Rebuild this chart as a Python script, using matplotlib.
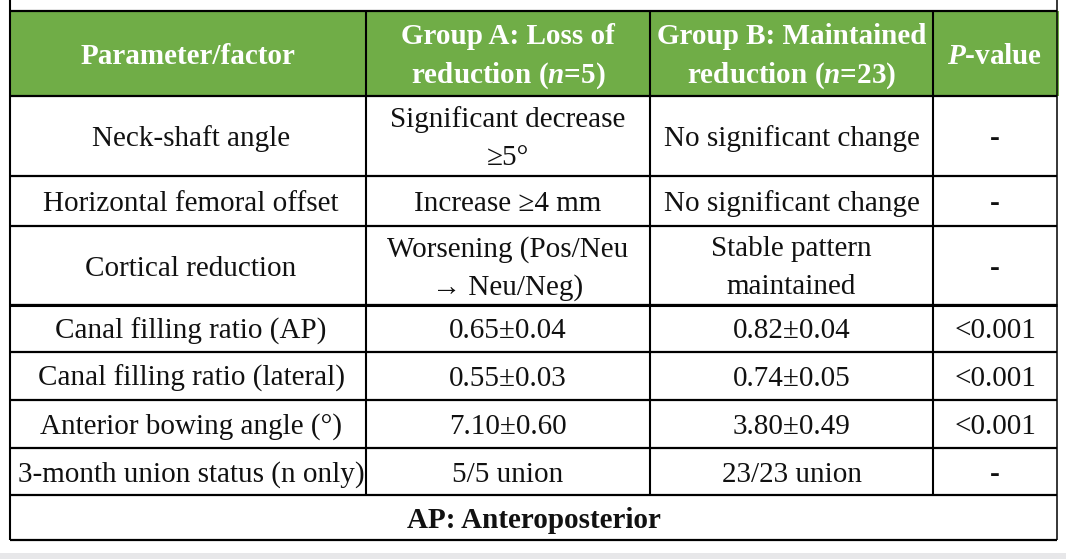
import matplotlib
matplotlib.use("Agg")
import matplotlib.pyplot as plt
from matplotlib.patches import Rectangle

# table content
headers = [
    "Parameter/factor",
    "Group A: Loss of\nreduction ($n$=5)",
    "Group B: Maintained\nreduction ($n$=23)",
    "$P$-value",
]
parameters = [
    "Neck-shaft angle",
    "Horizontal femoral offset",
    "Cortical reduction",
    "Canal filling ratio (AP)",
    "Canal filling ratio (lateral)",
    "Anterior bowing angle (°)",
    "3-month union status (n only)",
]
group_a = [
    "Significant decrease\n≥5°",
    "Increase ≥4 mm",
    "Worsening (Pos/Neu\n→ Neu/Neg)",
    "0.65±0.04",
    "0.55±0.03",
    "7.10±0.60",
    "5/5 union",
]
group_b = [
    "No significant change",
    "No significant change",
    "Stable pattern\nmaintained",
    "0.82±0.04",
    "0.74±0.05",
    "3.80±0.49",
    "23/23 union",
]
p_values = ["-", "-", "-", "<0.001", "<0.001", "<0.001", "-"]
footnote = "AP: Anteroposterior"

# layout in pixels (origin top-left)
W, H = 1066, 559
col_edges = [10, 366, 650, 933, 1057]
row_edges = [11, 96, 176, 226, 305, 352, 400, 448, 495, 540]
GREEN = "#70AD47"
FS = 21
LINE_GAP = 38
BASE_OFF = 10

plt.rcParams["font.family"] = ["Liberation Serif", "DejaVu Serif"]
plt.rcParams["mathtext.fontset"] = "custom"
plt.rcParams["mathtext.rm"] = "Liberation Serif:bold"
plt.rcParams["mathtext.it"] = "Liberation Serif:italic:bold"
plt.rcParams["mathtext.bf"] = "Liberation Serif:bold"

fig = plt.figure(figsize=(W / 100, H / 100), dpi=100)
ax = fig.add_axes([0, 0, 1, 1])
ax.set_xlim(0, W)
ax.set_ylim(H, 0)
ax.axis("off")


def cell_text(x, yc, s, **kw):
    lines = s.split("\n")
    n = len(lines)
    for i, line in enumerate(lines):
        y = yc + (i - (n - 1) / 2) * LINE_GAP + BASE_OFF
        ax.text(x, y, line, ha="center", va="baseline", fontsize=FS, **kw)


# header band
ax.add_patch(Rectangle((col_edges[0], row_edges[0]), col_edges[-1] - col_edges[0] + 2,
                       row_edges[1] - row_edges[0], facecolor=GREEN, edgecolor="none"))
# bottom grey strip
ax.add_patch(Rectangle((0, 553), W, H - 553, facecolor="#e7e7e9", edgecolor="none"))

centers_x = [(a + b) / 2 for a, b in zip(col_edges[:-1], col_edges[1:])]
centers_y = [(a + b) / 2 for a, b in zip(row_edges[:-1], row_edges[1:])]

for cx, h in zip(centers_x, headers):
    cell_text(cx, centers_y[0], h, color="white", fontweight="bold")

columns = [parameters, group_a, group_b, p_values]
for r in range(len(parameters)):
    yc = centers_y[r + 1]
    for c, col in enumerate(columns):
        cx = centers_x[c] + (3 if c == 0 else 0)
        weight = "bold" if col[r] == "-" else "normal"
        cell_text(cx, yc, col[r], color="#111111", fontweight=weight)

cell_text((col_edges[0] + col_edges[-1]) / 2, centers_y[-1], footnote,
          color="#111111", fontweight="bold")

# grid lines
ax.hlines(row_edges, col_edges[0], col_edges[-1], color="black", lw=1.6)
ax.hlines(row_edges[4], col_edges[0], col_edges[-1], color="black", lw=2.2)
ax.vlines(col_edges[1:-1], row_edges[0], row_edges[-2], color="black", lw=1.5)
ax.vlines(col_edges[0], 0, row_edges[-1], color="black", lw=1.5)
ax.vlines(col_edges[-1], 0, row_edges[-1], color="black", lw=1.1)

fig.savefig("out.png", dpi=100)
